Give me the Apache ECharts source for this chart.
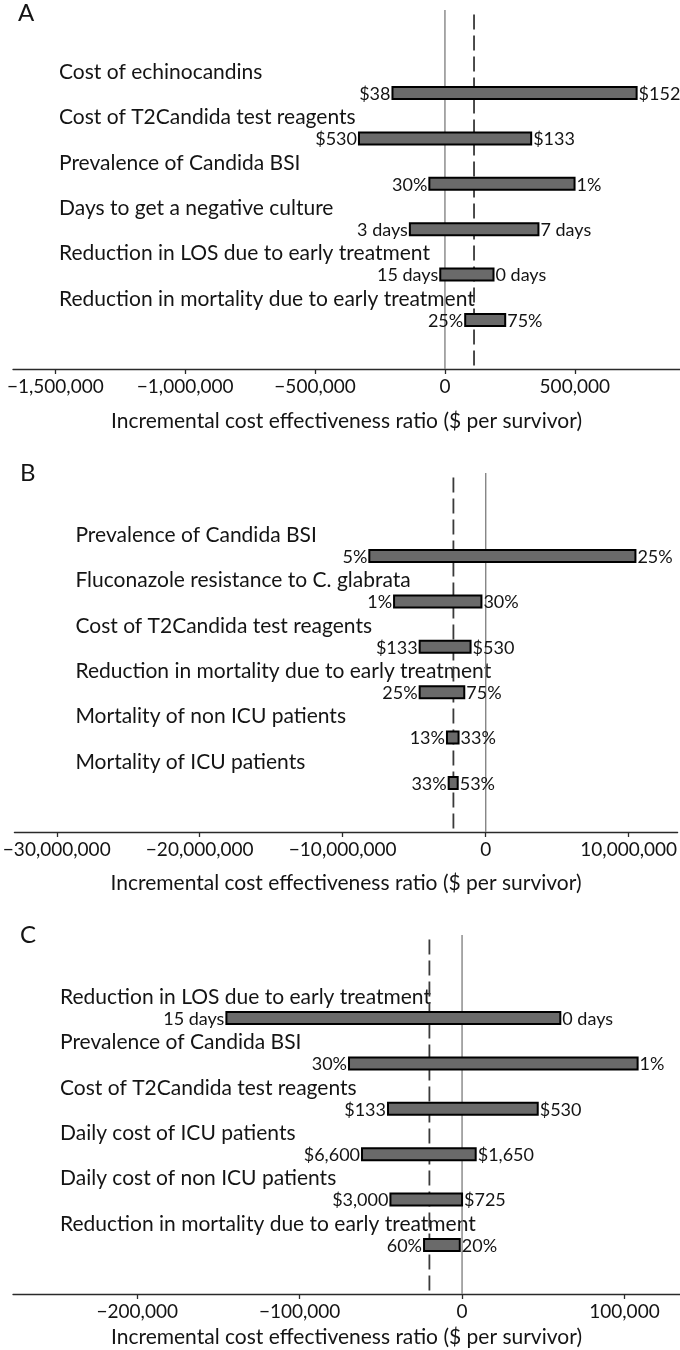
<!DOCTYPE html>
<html>
<head>
<meta charset="utf-8">
<script src="https://cdn.jsdelivr.net/npm/echarts@6/dist/echarts.min.js"></script>
<style>
html,body{margin:0;padding:0;background:#fff;}
#chart{width:680px;height:1350px;}
</style>
</head>
<body>
<div id="chart"></div>
<script>
// ---------- DATA ----------
const panelLetters = ['A', 'B', 'C'];
const axisTitle = 'Incremental cost effectiveness ratio ($ per survivor)';

// Panel A
const paramsA = ['Cost of echinocandins', 'Cost of T2Candida test reagents', 'Prevalence of Candida BSI',
  'Days to get a negative culture', 'Reduction in LOS due to early treatment', 'Reduction in mortality due to early treatment'];
const lowA = [-202000, -331000, -60000, -135000, -18000, 78000];
const highA = [738000, 332000, 499000, 360000, 187000, 232000];
const lowLabelsA = ['$38', '$530', '30%', '3 days', '15 days', '25%'];
const highLabelsA = ['$152', '$133', '1%', '7 days', '0 days', '75%'];
const baseA = 112000;
const ticksA = [-1500000, -1000000, -500000, 0, 500000];
const rangeA = [-1663000, 905000];

// Panel B
const paramsB = ['Prevalence of Candida BSI', 'Fluconazole resistance to C. glabrata', 'Cost of T2Candida test reagents',
  'Reduction in mortality due to early treatment', 'Mortality of non ICU patients', 'Mortality of ICU patients'];
const lowB = [-8140000, -6410000, -4620000, -4620000, -2710000, -2590000];
const highB = [10470000, -300000, -1060000, -1500000, -1900000, -1960000];
const lowLabelsB = ['5%', '1%', '$133', '25%', '13%', '33%'];
const highLabelsB = ['25%', '30%', '$530', '75%', '33%', '53%'];
const baseB = -2260000;
const ticksB = [-30000000, -20000000, -10000000, 0, 10000000];
const rangeB = [-32960000, 13420000];

// Panel C
const paramsC = ['Reduction in LOS due to early treatment', 'Prevalence of Candida BSI', 'Cost of T2Candida test reagents',
  'Daily cost of ICU patients', 'Daily cost of non ICU patients', 'Reduction in mortality due to early treatment'];
const lowC = [-145100, -69600, -45600, -61600, -44100, -23400];
const highC = [60500, 108100, 46600, 8400, 0, -1400];
const lowLabelsC = ['15 days', '30%', '$133', '$6,600', '$3,000', '60%'];
const highLabelsC = ['0 days', '1%', '$530', '$1,650', '$725', '20%'];
const baseC = -20100;
const ticksC = [-200000, -100000, 0, 100000];
const rangeC = [-276500, 134200];

// ---------- LAYOUT ----------
const FONT = 'Lato';
const FS_CAT = 21, FS_TICK = 19, FS_BAR = 18, FS_NAME = 21;
const TXT = '#141414';
const ROW_MIN = -1.83, ROW_MAX = 6.08;
const panels = [
  {params: paramsA, low: lowA, high: highA, lowL: lowLabelsA, highL: highLabelsA, base: baseA, ticks: ticksA, range: rangeA,
   top: 10, labelX: 59, nameGap: 42, letterX: 13, letterY: -4},
  {params: paramsB, low: lowB, high: highB, lowL: lowLabelsB, highL: highLabelsB, base: baseB, ticks: ticksB, range: rangeB,
   top: 473, labelX: 74, nameGap: 41, letterX: 15, letterY: 456},
  {params: paramsC, low: lowC, high: highC, lowL: lowLabelsC, highL: highLabelsC, base: baseC, ticks: ticksC, range: rangeC,
   top: 935, labelX: 60, nameGap: 33, letterX: 15, letterY: 918}
];
const GRID_LEFT = 13, GRID_H = 359;

function fmt(v) {
  const s = Math.abs(v).toLocaleString('en-US');
  return v < 0 ? '\u2212' + s : s;
}

const option = {
  animation: false,
  backgroundColor: '#fff',
  title: panels.map((p, k) => ({
    text: panelLetters[k], left: p.letterX, top: p.letterY,
    textStyle: {fontFamily: FONT, fontSize: 24, fontWeight: 'normal', color: TXT}
  })),
  grid: panels.map(p => ({left: GRID_LEFT, right: 0, top: p.top, height: GRID_H, containLabel: false})),
  xAxis: panels.map((p, k) => ({
    type: 'value', gridIndex: k, min: p.range[0], max: p.range[1],
    splitLine: {show: false},
    axisLine: {show: true, onZero: false, lineStyle: {color: '#2a2a2a', width: 1.3}},
    axisTick: {show: true, customValues: p.ticks, length: 5, lineStyle: {color: '#2a2a2a', width: 1.3}},
    axisLabel: {customValues: p.ticks, formatter: fmt, fontFamily: FONT, fontSize: FS_TICK, color: TXT, margin: 8},
    name: axisTitle, nameLocation: 'middle', nameGap: p.nameGap,
    nameTextStyle: {fontFamily: FONT, fontSize: FS_NAME, color: TXT}
  })),
  yAxis: panels.map((p, k) => ({
    type: 'value', gridIndex: k, inverse: true, min: ROW_MIN, max: ROW_MAX,
    splitLine: {show: false}, axisLine: {show: false}, axisTick: {show: false},
    axisLabel: {
      customValues: p.params.map((_, i) => i),
      formatter: v => p.params[Math.round(v)] || '',
      align: 'left', margin: GRID_LEFT - p.labelX, verticalAlign: 'bottom', lineHeight: 42,
      fontFamily: FONT, fontSize: FS_CAT, color: TXT
    }
  })),
  series: []
};

panels.forEach((p, k) => {
  // reference lines: zero (solid) and base case (dashed)
  option.series.push({
    type: 'line', xAxisIndex: k, yAxisIndex: k, z: 1, symbol: 'none', silent: true,
    data: [[0, ROW_MIN], [0, ROW_MAX]],
    lineStyle: {color: '#858585', width: 1.4}
  });
  option.series.push({
    type: 'line', xAxisIndex: k, yAxisIndex: k, z: 1, symbol: 'none', silent: true,
    data: [[p.base, ROW_MIN + 0.1], [p.base, ROW_MAX]],
    lineStyle: {color: '#3a3a3a', width: 1.8, type: [15, 6]}
  });
  // tornado bars
  option.series.push({
    type: 'custom', xAxisIndex: k, yAxisIndex: k, z: 3, silent: true,
    data: p.params.map((_, i) => [i, p.low[i], p.high[i]]),
    encode: {x: [1, 2], y: 0},
    renderItem: function (params, api) {
      const i = api.value(0);
      const a = api.coord([api.value(1), i]);
      const b = api.coord([api.value(2), i]);
      const h = 12;
      return {
        type: 'group',
        children: [
          {type: 'rect', shape: {x: a[0], y: a[1] - h / 2, width: b[0] - a[0], height: h},
           style: {fill: '#6a6a6a', stroke: '#000', lineWidth: 2}},
          {type: 'text', style: {x: a[0] - 2, y: a[1] + 1, text: p.lowL[params.dataIndex], align: 'right', verticalAlign: 'middle',
            fontFamily: FONT, fontSize: FS_BAR, fill: TXT}},
          {type: 'text', style: {x: b[0] + 2, y: a[1] + 1, text: p.highL[params.dataIndex], align: 'left', verticalAlign: 'middle',
            fontFamily: FONT, fontSize: FS_BAR, fill: TXT}}
        ]
      };
    }
  });
});

const chart = echarts.init(document.getElementById('chart'), null, {renderer: 'canvas'});
chart.setOption(option);
</script>
</body>
</html>
